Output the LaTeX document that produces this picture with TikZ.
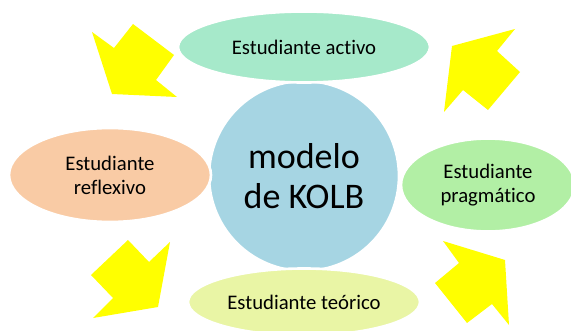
\documentclass[tikz,border=0pt]{standalone}
\usepackage{fontspec}
\setmainfont[Ligatures=NoCommon]{Carlito}
\usetikzlibrary{shapes.geometric}
\definecolor{kolbc}{HTML}{A6D5E3}
\definecolor{activoc}{HTML}{A6E9CA}
\definecolor{reflexc}{HTML}{F9CBA5}
\definecolor{pragmc}{HTML}{B2EFA5}
\definecolor{teorc}{HTML}{E9F5A5}
\definecolor{flechac}{HTML}{FFFF00}

\begin{document}
\begin{tikzpicture}[x=0.02cm,y=-0.02cm]
\useasboundingbox (0,0) rectangle (571,331);

\node[circle,fill=kolbc,draw=white,line width=1.5pt,minimum size=3.8cm,
    align=center,font=\fontsize{20.5}{22.7}\selectfont] (kolb) at (304,176) {modelo\\de KOLB};

\begin{scope}[every node/.style={ellipse,draw=white,line width=1.5pt,align=center,
    inner sep=0pt,font=\fontsize{11.8}{13.8}\selectfont}]
    \node[fill=activoc,minimum width=5.04cm,minimum height=1.42cm] (activo) at (304,47) {Estudiante activo};
    \node[fill=reflexc,minimum width=4.04cm,minimum height=1.88cm] (reflexivo) at (110,175) {Estudiante\\reflexivo};
    \node[fill=pragmc,minimum width=3.48cm,minimum height=1.86cm] (pragmatico) at (488,185) {Estudiante\\pragmático};
    \node[fill=teorc,minimum width=4.64cm,minimum height=1.34cm] (teorico) at (304,302) {Estudiante teórico};
\end{scope}

\begin{scope}[every path/.style={fill=flechac}]
    \path (92,32) -- (114,48) -- (133,24) -- (174,55) -- (156,80) -- (177,97) -- (112,94) -- cycle;
    \path (452,46) -- (515,29) -- (497,51) -- (520,72) -- (488,110) -- (463,90) -- (444,112) -- cycle;
    \path (128,240) -- (149,262) -- (170,242) -- (158,307) -- (93,318) -- (113,298) -- (91,275) -- cycle;
    \path (443,241) -- (505,260) -- (509,325) -- (492,304) -- (467,323) -- (435,283) -- (459,263) -- cycle;
\end{scope}
\end{tikzpicture}
\end{document}
